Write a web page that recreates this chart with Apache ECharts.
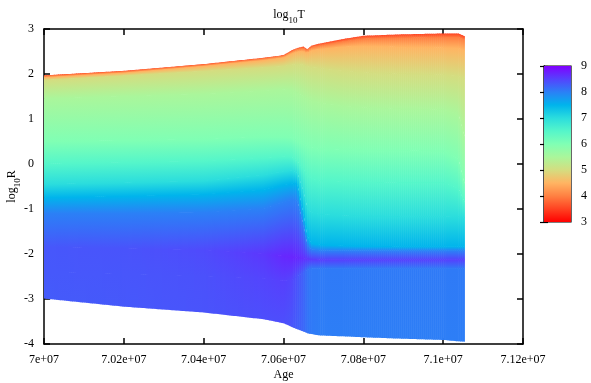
<!DOCTYPE html>
<html>
<head>
<meta charset="utf-8">
<script src="https://cdn.jsdelivr.net/npm/echarts@6/dist/echarts.min.js"></script>
<style>
  html, body { margin: 0; padding: 0; background: #fff; }
  #chart { width: 591px; height: 383px; }
</style>
</head>
<body>
<div id="chart"></div>
<script>
// ages of the model snapshots (x)
const ages = [7.0e7, 7.02e7, 7.04e7, 7.055e7, 7.06e7, 7.062e7, 7.0634e7, 7.0649e7, 7.0659e7,
  7.0669e7, 7.0692e7, 7.075e7, 7.08e7, 7.089e7, 7.1e7, 7.1038e7, 7.1053e7];

// outer edge (surface) and inner edge (centre) of the star, log10R
const surfaceR = [1.97, 2.07, 2.22, 2.36, 2.42, 2.53, 2.58, 2.61, 2.55, 2.63, 2.68, 2.78, 2.85, 2.88, 2.90, 2.90, 2.84];
const tSurface = [3.6, 3.6, 3.6, 3.6, 3.6, 3.6, 3.6, 3.6, 3.6, 3.6, 3.55, 3.5, 3.5, 3.5, 3.5, 3.5, 3.5];
const centreR = [-2.99, -3.17, -3.30, -3.45, -3.54, -3.62, -3.67, -3.72, -3.76, -3.78, -3.81, -3.83, -3.85, -3.88, -3.91, -3.94, -3.95];
const tCentre = [8.3, 8.32, 8.36, 8.4, 8.4, 8.35, 8.28, 8.2, 8.1, 8.05, 8.02, 8.02, 8.02, 8.02, 8.02, 8.02, 8.02];

// hot band near log10R = -2
const peakR = [-1.85, -1.88, -1.92, -2.0, -2.05, -2.07, -2.09, -2.1, -2.11, -2.12, -2.13, -2.13, -2.13, -2.13, -2.13, -2.13, -2.13];
const tPeak = [8.33, 8.36, 8.43, 8.58, 8.7, 8.72, 8.7, 8.65, 8.6, 8.55, 8.52, 8.5, 8.5, 8.5, 8.5, 8.5, 8.5];
const baseR = [-2.4, -2.45, -2.5, -2.55, -2.6, -2.58, -2.5, -2.42, -2.36, -2.33, -2.33, -2.33, -2.33, -2.33, -2.33, -2.33, -2.33];
const tBase = [8.32, 8.34, 8.38, 8.48, 8.52, 8.48, 8.38, 8.25, 8.12, 8.06, 8.05, 8.05, 8.05, 8.05, 8.05, 8.05, 8.05];

// isotherms: log10R where log10T = 8.0 ... 4.0
const r80 = [-1.1, -1.1, -1.08, -1.0, -0.85, -0.8, -0.82, -1.35, -1.8, -1.9, -1.93, -1.93, -1.93, -1.93, -1.93, -1.93, -1.93];
const r75 = [-0.75, -0.72, -0.68, -0.58, -0.47, -0.44, -0.45, -1.1, -1.6, -1.77, -1.8, -1.82, -1.83, -1.84, -1.84, -1.84, -1.84];
const r70 = [-0.45, -0.42, -0.38, -0.25, -0.17, -0.15, -0.2, -0.6, -0.98, -1.08, -1.12, -1.15, -1.16, -1.17, -1.17, -1.18, -1.2];
const r65 = [0.0, 0.03, 0.06, 0.13, 0.16, 0.15, 0.06, -0.12, -0.26, -0.33, -0.38, -0.40, -0.41, -0.42, -0.42, -0.55, -0.85];
const r60 = [0.50, 0.52, 0.55, 0.6, 0.6, 0.58, 0.52, 0.45, 0.40, 0.36, 0.33, 0.31, 0.30, 0.30, 0.28, 0.1, -0.45];
const r55 = [1.45, 1.50, 1.55, 1.62, 1.65, 1.63, 1.58, 1.5, 1.45, 1.4, 1.35, 1.28, 1.25, 1.22, 1.2, 1.1, 0.6];
const r50 = [1.86, 1.96, 2.06, 2.14, 2.17, 2.2, 2.21, 2.2, 2.16, 2.15, 2.12, 2.06, 2.03, 2.0, 1.98, 1.95, 1.9];
const r45 = [1.92, 2.02, 2.17, 2.30, 2.36, 2.45, 2.49, 2.50, 2.46, 2.52, 2.55, 2.60, 2.62, 2.60, 2.58, 2.57, 2.52];
const r40 = [1.95, 2.05, 2.20, 2.34, 2.40, 2.50, 2.55, 2.57, 2.52, 2.59, 2.63, 2.72, 2.78, 2.80, 2.81, 2.81, 2.76];

const tempRange = [3, 9];

// gnuplot rainbow (rgbformulae 33,13,10), log10T = 3 .. 9 in steps of 0.5
const tempPalette = ['#ff0000', '#ff4221', '#ff8042', '#ffb462', '#d4dd80', '#aaf69b', '#80ffb4',
  '#55f6ca', '#2bdddd', '#00b4ec', '#2b80f6', '#5542fd', '#8000ff'];

const FONT = 'Liberation Serif';

function tempColor(t) {
  return echarts.color.lerp((t - tempRange[0]) / (tempRange[1] - tempRange[0]), tempPalette);
}

// lines from the centre out to the surface
const lines = [
  { r: centreR, t: tCentre },
  { r: baseR, t: tBase },
  { r: peakR, t: tPeak },
  { r: r80, t: 8.0 },
  { r: r75, t: 7.5 },
  { r: r70, t: 7.0 },
  { r: r65, t: 6.5 },
  { r: r60, t: 6.0 },
  { r: r55, t: 5.5 },
  { r: r50, t: 5.0 },
  { r: r45, t: 4.5 },
  { r: r40, t: 4.0 },
  { r: surfaceR, t: tSurface },
];
const tAt = (line, i) => (Array.isArray(line.t) ? line.t[i] : line.t);

// one cell = the patch between two neighbouring lines and two neighbouring ages
const cells = [];
for (let k = 0; k < lines.length - 1; k++) {
  const lo = lines[k], hi = lines[k + 1];
  for (let i = 0; i < ages.length - 1; i++) {
    cells.push([
      ages[i], ages[i + 1],
      lo.r[i], lo.r[i + 1], hi.r[i], hi.r[i + 1],
      tAt(lo, i), tAt(lo, i + 1), tAt(hi, i), tAt(hi, i + 1),
      k === lines.length - 2 ? 0 : 1, // overlap into the next band
    ]);
  }
}

const mix = (a, b, f) => a + (b - a) * f;

function renderCell(params, api) {
  const v = (d) => api.value(d);
  const xa = api.coord([v(0), 0])[0];
  const xb = api.coord([v(1), 0])[0];
  const n = Math.max(1, Math.ceil((xb - xa) / 2));
  const pad = v(10) ? 0.6 : 0;
  const children = [];
  for (let j = 0; j < n; j++) {
    const f0 = j / n, f1 = (j + 1) / n, fm = (f0 + f1) / 2;
    const p0 = api.coord([mix(v(0), v(1), f0), mix(v(2), v(3), f0)]);
    const p1 = api.coord([mix(v(0), v(1), f1), mix(v(2), v(3), f1)]);
    const p2 = api.coord([mix(v(0), v(1), f1), mix(v(4), v(5), f1)]);
    const p3 = api.coord([mix(v(0), v(1), f0), mix(v(4), v(5), f0)]);
    const yLo = (p0[1] + p1[1]) / 2;
    let yHi = (p2[1] + p3[1]) / 2;
    if (yLo - yHi < 0.3) yHi = yLo - 0.3;
    const fill = new echarts.graphic.LinearGradient(0, yLo, 0, yHi, [
      { offset: 0, color: tempColor(mix(v(6), v(7), fm)) },
      { offset: 1, color: tempColor(mix(v(8), v(9), fm)) },
    ], true);
    children.push({
      type: 'polygon',
      shape: { points: [p0, [p1[0] + 0.6, p1[1]], [p2[0] + 0.6, p2[1] - pad], [p3[0], p3[1] - pad]] },
      style: { fill: fill },
    });
  }
  return { type: 'group', children: children };
}

function renderColorbar(params, api) {
  const a = api.coord([api.value(0), api.value(3)]);
  const b = api.coord([api.value(1), api.value(2)]);
  const stops = tempPalette.map((c, i) => ({ offset: i / (tempPalette.length - 1), color: c }));
  return {
    type: 'rect',
    shape: { x: a[0], y: a[1], width: b[0] - a[0], height: b[1] - a[1] },
    style: { fill: new echarts.graphic.LinearGradient(0, 1, 0, 0, stops) },
  };
}

const richLabel = {
  n: { fontFamily: FONT, fontSize: 12, fontWeight: 'normal', color: '#000', lineHeight: 14, verticalAlign: 'top' },
  s: { fontFamily: FONT, fontSize: 9, fontWeight: 'normal', color: '#000', lineHeight: 9, padding: [7, 0, 0, 0], verticalAlign: 'top' },
};

const axisLine = { show: true, onZero: false, lineStyle: { color: '#000', width: 1.5 } };
const axisTick = { show: true, inside: true, length: 6, lineStyle: { color: '#000', width: 1.5 } };
const axisLabel = { color: '#000', fontFamily: FONT, fontSize: 12, margin: 10 };

const options = {
  animation: false,
  title: {
    text: '{n|log}{s|10}{n|T}',
    left: 284,
    top: 4,
    textAlign: 'center',
    textStyle: { fontWeight: 'normal', rich: richLabel },
  },
  grid: [
    { left: 44, top: 29, width: 479, height: 315, outerBoundsMode: 'none' },
    {
      left: 544, top: 66, width: 27, height: 156, outerBoundsMode: 'none',
      show: true, borderColor: '#000', borderWidth: 1.2, backgroundColor: 'transparent',
    },
  ],
  xAxis: [
    {
      type: 'value', gridIndex: 0, min: 7e7, max: 7.12e7, interval: 2e5,
      name: 'Age', nameLocation: 'middle', nameGap: 25, nameMoveOverlap: false,
      nameTextStyle: { fontFamily: FONT, fontSize: 12, color: '#000' },
      axisLine, axisTick, splitLine: { show: false },
      axisLabel: { ...axisLabel, formatter: (v) => parseFloat((v / 1e7).toFixed(4)) + 'e+07' },
    },
    {
      type: 'value', gridIndex: 0, position: 'top', min: 7e7, max: 7.12e7, interval: 2e5,
      axisLine, axisTick, splitLine: { show: false }, axisLabel: { show: false },
    },
    { type: 'value', gridIndex: 1, min: 0, max: 1, show: false },
  ],
  yAxis: [
    {
      type: 'value', gridIndex: 0, min: -4, max: 3, interval: 1,
      name: '{n|log}{s|10}{n|R}', nameLocation: 'middle', nameGap: 24, nameRotate: 90, nameMoveOverlap: false,
      nameTextStyle: { rich: richLabel },
      axisLine, axisTick, splitLine: { show: false }, axisLabel,
    },
    {
      type: 'value', gridIndex: 0, position: 'right', min: -4, max: 3, interval: 1,
      axisLine, axisTick, splitLine: { show: false }, axisLabel: { show: false },
    },
    {
      type: 'value', gridIndex: 1, position: 'right', min: tempRange[0], max: tempRange[1], interval: 1,
      axisLine: { show: true, lineStyle: { color: '#000', width: 1.2 } },
      axisTick: { show: true, inside: true, length: 4, lineStyle: { color: '#000', width: 1.2 } },
      splitLine: { show: false }, axisLabel,
    },
    {
      type: 'value', gridIndex: 1, position: 'left', min: tempRange[0], max: tempRange[1], interval: 1,
      axisLine: { show: true, lineStyle: { color: '#000', width: 1.2 } },
      axisTick: { show: true, inside: true, length: 4, lineStyle: { color: '#000', width: 1.2 } },
      splitLine: { show: false }, axisLabel: { show: false },
    },
  ],
  series: [
    {
      type: 'custom',
      xAxisIndex: 0, yAxisIndex: 0,
      renderItem: renderCell,
      encode: { x: [0, 1], y: [2, 3, 4, 5] },
      data: cells,
      silent: true,
      z: 1,
    },
    {
      type: 'custom',
      xAxisIndex: 2, yAxisIndex: 2,
      renderItem: renderColorbar,
      encode: { x: [0, 1], y: [2, 3] },
      data: [[0, 1, tempRange[0], tempRange[1]]],
      silent: true,
      z: 1,
    },
  ],
};

const chart = echarts.init(document.getElementById('chart'));
chart.setOption(options);
</script>
</body>
</html>
